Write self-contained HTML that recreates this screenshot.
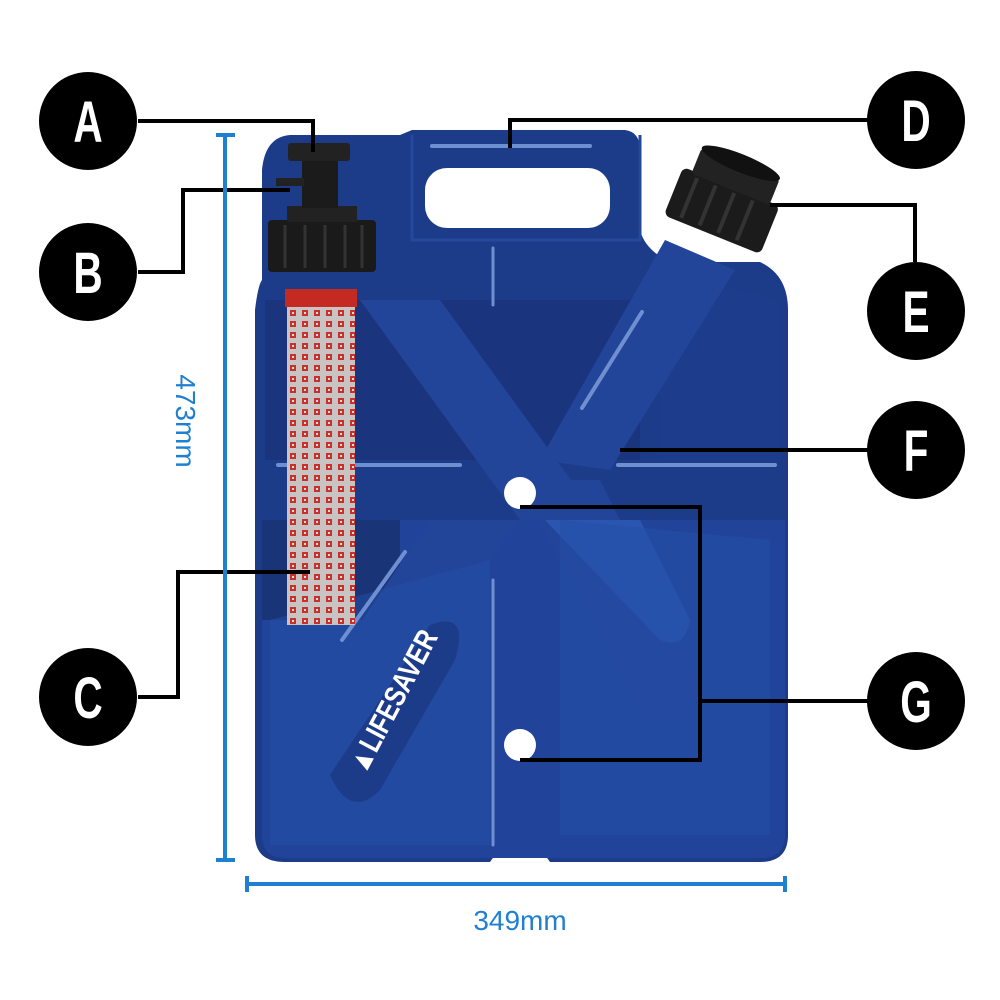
<!DOCTYPE html>
<html><head><meta charset="utf-8"><style>
html,body{margin:0;padding:0;background:#fff;width:1000px;height:1000px;overflow:hidden}
svg{display:block}
.lt{font-family:"Liberation Sans Narrow","Liberation Sans",sans-serif;font-weight:bold;fill:#fff;font-size:58px}
</style></head><body>
<svg width="1000" height="1000" viewBox="0 0 1000 1000" xmlns="http://www.w3.org/2000/svg">
<defs>
<pattern id="mesh" width="12" height="11" patternUnits="userSpaceOnUse">
<rect width="12" height="11" fill="#c9c4c4"/>
<rect x="2" y="2" width="6" height="6" fill="#c8302c"/>
<rect x="4" y="4" width="2" height="2" fill="#ddd"/>
</pattern>
</defs>
<!-- body -->
<path d="M290,135 L400,135 L412,130 L625,130 Q640,132 640,150 L640,230 Q645,250 670,262 L760,262 Q788,275 788,310 L788,835 Q788,862 760,862 L550,862 L545,855 L495,855 L490,862 L285,862 Q255,862 255,835 L255,310 Q258,285 262,280 L262,170 Q265,137 290,135 Z" fill="#1c3b88"/>
<!-- lower lighter region -->
<path d="M262,520 L785,520 L785,835 Q785,858 760,858 L285,858 Q262,858 262,835 Z" fill="#21449a"/>
<path d="M262,520 L400,520 L400,620 L262,620 Z" fill="#1a3478"/>
<!-- upper dark inset -->
<path d="M265,300 L640,300 L640,460 L265,460 Z" fill="#1a357e"/>
<path d="M660,270 L780,300 L780,460 L660,460 Z" fill="#1d3c8c"/>
<!-- handle hole -->
<rect x="425" y="168" width="185" height="60" rx="22" fill="#fff"/>
<path d="M412,135 L412,240 L640,240 L640,135" fill="none" stroke="#24489c" stroke-width="3"/>
<!-- ribs: X -->
<g fill="#22459a">
<path d="M360,300 L440,300 L600,520 L520,520 Z"/>
<path d="M665,240 L735,270 L610,470 L540,460 Z"/>
<path d="M430,520 L520,520 L390,690 Q340,720 335,660 Z"/>
<path d="M520,480 L600,480 L700,680 Q690,735 640,720 Z"/>
<path d="M545,520 L640,520 L690,620 Q685,650 660,640 Z" fill="#2a55b0"/>
<path d="M560,520 L560,835 L770,835 L770,540 Z" fill="#2450a6" opacity="0.5"/>
<path d="M270,620 L490,560 L490,845 L270,845 Z" fill="#2450a8" opacity="0.5"/>
<path d="M440,650 L455,650 L380,790 Q350,815 340,770 Z"/>
</g>
<!-- LIFESAVER bar -->
<path d="M430,625 Q470,610 455,660 L380,790 Q350,820 330,775 Z" fill="#1c3c8a"/>
<text x="0" y="0" transform="translate(365,775) rotate(-62) scale(0.8,1)" font-family="Liberation Sans Narrow,Liberation Sans,sans-serif" font-weight="bold" font-size="30" fill="#fff">▲LIFESAVER</text>
<!-- highlight lines -->
<g stroke="#6e8fd0" stroke-width="4" stroke-linecap="round" fill="none">
<line x1="432" y1="146" x2="590" y2="146"/>
<line x1="278" y1="465" x2="460" y2="465"/>
<line x1="618" y1="465" x2="775" y2="465"/>
<line x1="582" y1="408" x2="642" y2="312"/>
<line x1="342" y1="640" x2="405" y2="552"/>
<line x1="493" y1="248" x2="493" y2="305" stroke-width="3"/>
<line x1="493" y1="580" x2="493" y2="845" stroke-width="3"/>
</g>
<!-- holes -->
<circle cx="520" cy="493" r="16" fill="#fff"/>
<circle cx="520" cy="745" r="16" fill="#fff"/>
<!-- filter -->
<rect x="287" y="305" width="68" height="320" fill="url(#mesh)"/>
<rect x="285" y="289" width="72" height="18" fill="#c42a22"/>
<rect x="268" y="220" width="108" height="52" rx="4" fill="#1a1a1a"/>
<g stroke="#333" stroke-width="3"><line x1="285" y1="225" x2="285" y2="268"/><line x1="305" y1="225" x2="305" y2="268"/><line x1="325" y1="225" x2="325" y2="268"/><line x1="345" y1="225" x2="345" y2="268"/><line x1="362" y1="225" x2="362" y2="268"/></g>
<rect x="287" y="206" width="70" height="16" fill="#222"/>
<rect x="302" y="160" width="36" height="48" fill="#1b1b1b"/>
<rect x="288" y="143" width="62" height="18" rx="3" fill="#222"/>
<rect x="276" y="178" width="28" height="8" fill="#222"/>
<!-- spout cap -->
<g transform="translate(724,205) rotate(22)">
<rect x="-52" y="-20" width="104" height="52" rx="6" fill="#1b1b1b"/>
<g stroke="#333" stroke-width="4"><line x1="-35" y1="-15" x2="-35" y2="28"/><line x1="-15" y1="-15" x2="-15" y2="28"/><line x1="5" y1="-15" x2="5" y2="28"/><line x1="25" y1="-15" x2="25" y2="28"/></g>
<rect x="-42" y="-45" width="84" height="28" rx="4" fill="#222"/>
<ellipse cx="0" cy="-45" rx="42" ry="9" fill="#111"/>
</g>
<!-- connectors -->
<g stroke="#000" stroke-width="4" fill="none">
<polyline points="138,121 313,121 313,152"/>
<polyline points="138,272 183,272 183,190 290,190"/>
<polyline points="868,120 510,120 510,148"/>
<polyline points="770,205 915,205 915,262"/>
<polyline points="620,450 868,450"/>
<polyline points="310,572 178,572 178,697 138,697"/>
<polyline points="520,507 700,507 700,760 520,760"/>
<polyline points="700,701 868,701"/>
</g>
<!-- dimension lines -->
<g stroke="#1f7fd0" stroke-width="4">
<line x1="225" y1="135" x2="225" y2="860"/>
<line x1="216" y1="135" x2="235" y2="135"/>
<line x1="216" y1="860" x2="235" y2="860"/>
<line x1="247" y1="884" x2="785" y2="884"/>
<line x1="247" y1="876" x2="247" y2="892"/>
<line x1="785" y1="876" x2="785" y2="892"/>
</g>
<text transform="translate(176,421) rotate(90)" text-anchor="middle" font-family="Liberation Sans,sans-serif" font-size="28" fill="#1f7fd0">473mm</text>
<text x="520" y="930" text-anchor="middle" font-family="Liberation Sans,sans-serif" font-size="28" fill="#1f7fd0">349mm</text>
<!-- letter circles -->
<g fill="#000">
<circle cx="88" cy="121" r="49"/><circle cx="88" cy="272" r="49"/><circle cx="88" cy="697" r="49"/>
<circle cx="916" cy="120" r="49"/><circle cx="916" cy="311" r="49"/><circle cx="916" cy="450" r="49"/><circle cx="916" cy="701" r="49"/>
</g>
<g class="lt" text-anchor="middle">
<text transform="translate(88,142) scale(0.7,1)">A</text><text transform="translate(88,293) scale(0.7,1)">B</text><text transform="translate(88,718) scale(0.7,1)">C</text>
<text transform="translate(916,141) scale(0.7,1)">D</text><text transform="translate(916,332) scale(0.7,1)">E</text><text transform="translate(916,471) scale(0.7,1)">F</text><text transform="translate(916,722) scale(0.7,1)">G</text>
</g>
</svg>
</body></html>
